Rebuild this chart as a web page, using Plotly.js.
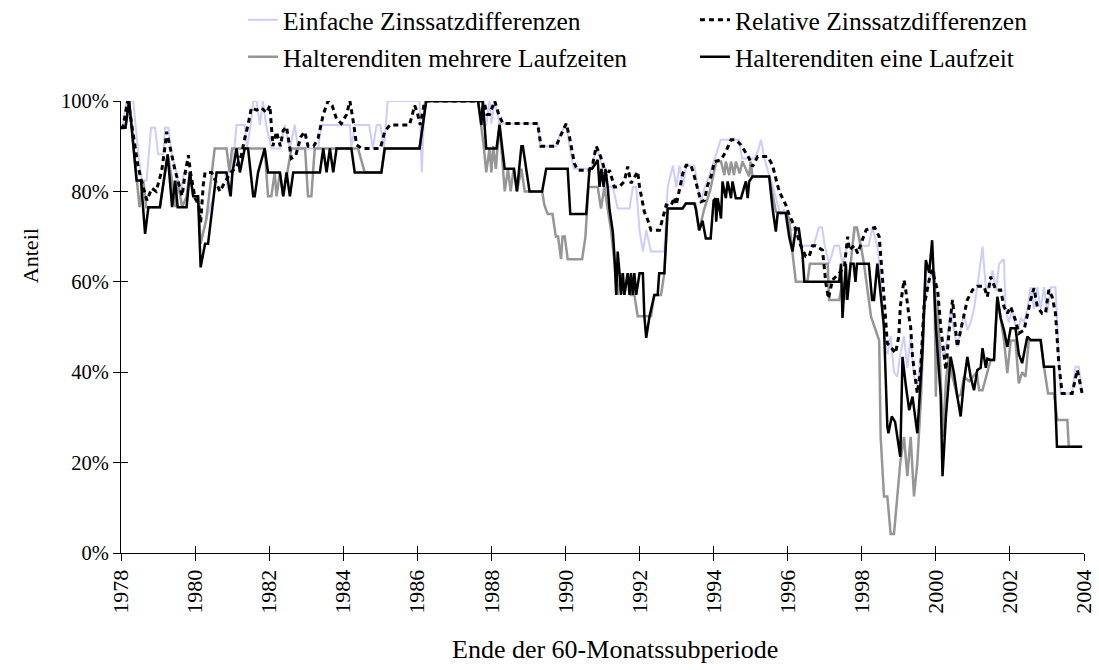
<!DOCTYPE html>
<html><head><meta charset="utf-8">
<script src="https://cdn.plot.ly/plotly-3.0.1.min.js"></script>
<style>html,body{margin:0;padding:0;background:#fff}#chart{width:1099px;height:670px}</style>
</head><body><div id="chart"></div>
<script>
// [year, percent]
const einfache = [
[1978.00,94.1],[1978.04,94.1],[1978.15,100],[1978.33,100],[1978.47,88.2],[1978.56,82.4],[1978.69,82.4],[1978.81,94.1],[1978.92,94.1],[1979.00,88.2],
[1979.14,88.2],[1979.19,94.1],[1979.28,94.1],[1979.37,88.2],[1979.50,84.2],[1979.60,78.9],[1979.70,84.2],[1979.86,84.2],[1979.95,78.9],[1980.08,78.9],
[1980.15,68.4],[1980.30,73.7],[1980.50,78.9],[1980.60,84.2],[1980.80,84.2],[1980.93,78.9],[1981.00,84.2],[1981.12,94.7],[1981.34,94.7],[1981.40,89.5],
[1981.50,94.7],[1981.57,100],[1981.66,100],[1981.75,94.7],[1981.83,100],[1981.92,94.7],[1982.06,89.5],[1982.30,89.5],[1982.42,94.7],[1982.56,89.5],
[1982.69,94.7],[1982.78,89.5],[1983.32,89.5],[1983.41,94.7],[1984.18,94.7],[1984.22,89.5],[1984.31,94.7],[1984.70,94.7],[1984.80,89.5],[1984.90,94.7],
[1985.00,94.7],[1985.10,89.5],[1985.20,100],[1986.06,100],[1986.12,84.2],[1986.20,100],[1987.64,100],[1987.73,94.7],[1987.86,94.7],[1987.95,100],
[1988.00,95],[1988.09,100],[1988.22,95],[1989.25,95],[1989.32,90],[1989.75,90],[1989.85,92.5],[1990.02,95],[1990.11,90],[1990.22,85],
[1990.70,85],[1990.85,90],[1991.00,85],[1991.10,81],[1991.28,81],[1991.41,76.2],[1991.73,76.2],[1991.82,81],[1991.91,81],[1992.00,71.4],
[1992.09,66.7],[1992.18,71.4],[1992.31,66.7],[1992.67,66.7],[1992.76,81],[1992.90,85.7],[1992.99,81],[1993.08,85.7],[1993.17,81],[1993.26,85.7],
[1993.48,85.7],[1993.57,81],[1993.66,77.7],[1993.75,80.7],[1993.84,82.5],[1993.93,85],[1994.02,87],[1994.10,89],[1994.19,91.4],[1994.68,91.4],
[1994.77,87.3],[1995.10,87.3],[1995.20,89],[1995.28,91.4],[1995.37,87.3],[1995.50,83.6],[1995.64,80],[1995.73,77],[1995.82,74.8],[1995.91,76],
[1996.00,71.5],[1996.22,71.5],[1996.35,68],[1996.70,68],[1996.84,72],[1996.93,72],[1997.00,68],[1997.12,64],[1997.26,68],[1997.39,68],
[1997.48,64],[1997.61,68],[1997.75,68],[1997.83,72],[1997.87,72],[1997.95,68],[1998.19,68],[1998.28,72],[1998.42,68],[1998.51,61],
[1998.60,48],[1998.69,44],[1998.78,48],[1998.87,40],[1998.96,39],[1999.04,44],[1999.14,48],[1999.23,41],[1999.32,48],[1999.41,39],
[1999.50,36.8],[1999.64,48],[1999.73,56.7],[1999.82,61],[1999.96,62],[2000.05,53],[2000.14,45],[2000.23,43.4],[2000.32,48],[2000.40,53],
[2000.49,49.3],[2000.58,45.6],[2000.67,49.3],[2000.76,53],[2000.85,49.3],[2000.94,51],[2001.03,54],[2001.08,56.7],[2001.17,62],[2001.26,67.8],
[2001.35,58.6],[2001.44,58.6],[2001.53,62.5],[2001.62,58],[2001.71,64],[2001.80,64.8],[2001.84,64.8],[2001.88,54],[2001.97,51],[2002.06,54],
[2002.11,52],[2002.20,48],[2002.29,52],[2002.38,51],[2002.47,54],[2002.56,58.8],[2002.65,54],[2002.74,58.8],[2002.83,54],[2002.92,58.8],
[2003.01,53],[2003.10,58.8],[2003.23,58.8],[2003.37,35.3],[2003.68,35.3],[2003.77,41.2],[2003.86,41.2],[2003.95,35.3]
];
const relative = [
[1978.00,94.1],[1978.05,94.1],[1978.18,100],[1978.25,97],[1978.45,86],[1978.55,82.4],[1978.70,78],[1978.83,80.7],[1978.95,80],[1979.10,84.6],
[1979.19,90],[1979.23,93.2],[1979.32,90],[1979.46,84.6],[1979.55,82],[1979.65,79],[1979.73,84],[1979.82,88],[1979.88,84],[1980.00,78.5],
[1980.10,77],[1980.15,73],[1980.22,81.4],[1980.27,84.2],[1980.45,84.2],[1980.67,80],[1980.80,82],[1980.95,84],[1981.12,85.5],[1981.25,88],
[1981.34,91.7],[1981.43,94.7],[1981.52,98.5],[1981.66,98],[1981.79,98.5],[1981.93,97.4],[1982.02,99],[1982.06,93.2],[1982.10,90],[1982.20,93.2],
[1982.30,90],[1982.38,93.5],[1982.47,94.3],[1982.60,87.3],[1982.72,88],[1982.85,92],[1982.96,93.2],[1983.05,90],[1983.20,90],[1983.32,91.7],
[1983.46,97],[1983.59,100],[1983.70,99],[1983.82,96],[1983.95,95],[1984.09,97],[1984.18,100],[1984.28,95],[1984.36,90.3],[1984.50,89.5],
[1985.00,89.5],[1985.12,93.2],[1985.26,94.7],[1985.79,94.7],[1985.93,99],[1986.00,97.4],[1986.08,94.7],[1986.20,100],[1987.80,100],[1987.88,97],
[1987.95,97],[1988.09,100],[1988.20,97],[1988.31,95],[1989.25,95],[1989.34,90],[1989.75,90],[1989.85,92],[1990.02,95],[1990.11,92],
[1990.24,86.2],[1990.33,84.7],[1990.65,84.7],[1990.74,86.2],[1990.83,90],[1990.92,88.4],[1991.01,86.2],[1991.10,83.3],[1991.19,84.7],[1991.32,81],
[1991.45,81],[1991.59,82.2],[1991.68,85.5],[1991.77,81.8],[1991.95,84.4],[1992.00,81],[1992.13,75.5],[1992.22,73.7],[1992.31,71.4],[1992.54,71.4],
[1992.72,77],[1992.85,76.8],[1992.94,78.7],[1992.99,77],[1993.08,80.7],[1993.17,84],[1993.26,85.8],[1993.39,85.8],[1993.48,83.3],[1993.57,80.3],
[1993.66,77.7],[1993.75,78],[1993.84,81.4],[1993.93,83.3],[1994.02,86.6],[1994.20,87],[1994.33,88.8],[1994.47,91.4],[1994.60,91.4],[1994.74,90.3],
[1994.87,88.4],[1994.96,87.3],[1995.05,85.5],[1995.19,87.7],[1995.46,87.7],[1995.59,85.8],[1995.68,82.9],[1995.77,80],[1995.86,78.5],[1995.95,77],
[1996.04,74.8],[1996.20,72],[1996.35,68],[1996.49,65.6],[1996.58,65.6],[1996.67,68],[1996.76,68],[1996.94,67],[1996.99,63],[1997.03,59.7],
[1997.10,56.3],[1997.21,60.4],[1997.40,62],[1997.53,63.3],[1997.62,70],[1997.66,67],[1997.80,68],[1997.89,66.3],[1998.03,69.6],[1998.12,71.5],
[1998.35,72],[1998.47,70],[1998.60,56.7],[1998.69,46.4],[1998.78,45.6],[1998.91,44.2],[1999.00,47.9],[1999.04,54.5],[1999.14,60.4],[1999.19,58],
[1999.28,52],[1999.32,50],[1999.37,43.4],[1999.50,35.3],[1999.59,40.5],[1999.68,54.5],[1999.82,60.4],[1999.90,62.6],[2000.05,58],[2000.14,49.3],
[2000.27,40.5],[2000.36,49.3],[2000.45,56],[2000.54,49.3],[2000.58,45.6],[2000.67,49.3],[2000.76,53],[2000.85,56],[2000.99,58.2],[2001.12,59],
[2001.30,59],[2001.39,56.7],[2001.48,61.1],[2001.62,58.2],[2001.75,58.2],[2001.84,54.5],[2001.93,53],[2002.02,54.5],[2002.15,51.5],[2002.24,48.6],
[2002.38,49.3],[2002.47,53],[2002.56,56],[2002.65,58.6],[2002.74,54.5],[2002.87,53],[2002.96,53],[2003.05,58.2],[2003.14,56.7],[2003.23,53],
[2003.32,41.9],[2003.41,35.3],[2003.68,35.3],[2003.82,40.5],[2003.95,35.3]
];
const mehrere = [
[1978.00,94.1],[1978.12,94.1],[1978.22,100],[1978.42,82.4],[1978.50,76.5],[1978.60,82.4],[1978.68,76.5],[1979.05,76.5],[1979.26,88.2],[1979.38,82.4],
[1979.46,76.5],[1979.53,82.4],[1979.65,76.5],[1979.77,78.9],[1979.86,84.2],[1979.95,78.9],[1980.08,78.9],[1980.15,68.4],[1980.30,73.7],[1980.53,89.5],
[1980.85,89.5],[1980.93,84.2],[1981.00,89.5],[1981.88,89.5],[1981.97,78.9],[1982.06,78.9],[1982.15,84.2],[1982.20,78.9],[1982.29,84.2],[1982.38,78.9],
[1982.50,84.2],[1982.60,89.5],[1982.97,89.5],[1983.05,78.9],[1983.14,78.9],[1983.23,89.5],[1984.40,89.5],[1984.58,84.2],[1985.03,84.2],[1985.12,89.5],
[1986.06,89.5],[1986.24,100],[1987.64,100],[1987.73,94.7],[1987.80,89.5],[1987.86,84.2],[1987.95,89.5],[1988.00,84.2],[1988.05,90],[1988.12,85],
[1988.22,95],[1988.36,80],[1988.45,85],[1988.52,80],[1988.60,85],[1988.69,80],[1988.81,85],[1988.90,80],[1989.37,80],[1989.43,77],
[1989.52,75],[1989.65,75],[1989.74,70],[1989.80,70],[1989.88,65],[1989.92,70],[1989.98,70],[1990.06,65],[1990.45,65],[1990.54,70],
[1990.58,76.6],[1990.62,81],[1990.87,81],[1990.96,76.2],[1991.05,81],[1991.14,76.2],[1991.23,71.4],[1991.32,64.5],[1991.41,57.1],[1991.50,61.9],
[1991.59,57.1],[1991.68,61.9],[1991.77,57.1],[1991.86,57.1],[1991.95,52.4],[1992.31,52.4],[1992.40,57.1],[1992.58,57.1],[1992.67,61.9],[1992.76,76.2],
[1993.16,76.2],[1993.25,77.3],[1993.50,77.3],[1993.61,71.4],[1993.75,76.2],[1993.90,80],[1994.00,84],[1994.07,86.6],[1994.20,86.6],[1994.29,83.6],
[1994.33,86.6],[1994.42,83.6],[1994.47,86.6],[1994.55,83.6],[1994.60,86.6],[1994.70,84],[1994.78,86.6],[1994.96,83.3],[1995.00,86.6],[1995.05,83.3],
[1995.50,83.3],[1995.59,79],[1995.68,75.5],[1995.95,75.2],[1996.04,74],[1996.13,66.4],[1996.22,60],[1996.53,60],[1996.60,64],[1997.08,64],
[1997.12,56],[1997.39,56],[1997.48,60],[1997.57,56],[1997.70,64],[1997.80,72],[1997.87,72],[1997.98,67.8],[1998.06,64],[1998.25,52.3],
[1998.42,48],[1998.47,47],[1998.51,25.7],[1998.60,12.5],[1998.69,12.5],[1998.78,4.2],[1998.87,4.2],[1998.96,12.5],[1999.04,20],[1999.14,25.7],
[1999.23,17],[1999.32,25.7],[1999.41,12.5],[1999.50,20],[1999.60,34.6],[1999.68,52],[1999.73,64],[1999.87,62],[1999.96,62],[2000.00,34.6],
[2000.05,56],[2000.19,25.7],[2000.28,39],[2000.36,43.4],[2000.45,39],[2000.58,34.6],[2000.67,35],[2000.76,39],[2000.90,38],[2001.10,40],
[2001.17,36],[2001.26,36],[2001.35,39],[2001.48,42.7],[2001.57,42.7],[2001.66,56.7],[2001.75,52],[2001.84,47],[2001.93,39.8],[2002.02,47],
[2002.15,47],[2002.24,37.5],[2002.33,40],[2002.42,39],[2002.51,47],[2002.83,47],[2002.92,41.2],[2003.03,35.3],[2003.19,35.3],[2003.28,29.4],
[2003.55,29.4],[2003.59,23.5],[2003.95,23.5]
];
const eine = [
[1978.00,94.1],[1978.12,94.1],[1978.22,100],[1978.42,82.4],[1978.54,82.4],[1978.65,70.6],[1978.74,76.5],[1979.05,76.5],[1979.26,88.2],[1979.38,76.5],
[1979.46,82.4],[1979.53,76.5],[1979.77,76.5],[1979.86,84.2],[1979.95,78.9],[1980.08,78.9],[1980.15,63.2],[1980.27,68.4],[1980.35,68.4],[1980.58,84.2],
[1980.85,84.2],[1980.96,78.9],[1981.01,84.2],[1981.12,89.5],[1981.21,84.2],[1981.34,89.5],[1981.43,89.5],[1981.57,78.9],[1981.61,78.9],[1981.70,84.2],
[1981.88,89.5],[1981.97,84.2],[1982.29,84.2],[1982.38,78.9],[1982.47,84.2],[1982.56,78.9],[1982.65,84.2],[1983.37,84.2],[1983.46,89.5],[1983.55,84.2],
[1983.64,89.5],[1983.73,84.2],[1983.82,89.5],[1984.22,89.5],[1984.31,84.2],[1985.03,84.2],[1985.12,89.5],[1986.06,89.5],[1986.24,100],[1987.64,100],
[1987.73,94.7],[1987.77,100],[1987.86,89.5],[1988.14,89.5],[1988.22,94.7],[1988.36,85],[1988.61,85],[1988.69,80],[1988.81,90],[1988.85,90],
[1989.03,80],[1989.37,80],[1989.48,85],[1990.06,85],[1990.13,75],[1990.56,75],[1990.65,85],[1990.72,85],[1990.80,86],[1990.87,87],
[1990.92,81],[1990.97,85],[1991.03,81],[1991.08,85],[1991.14,81],[1991.19,76],[1991.28,71],[1991.32,66],[1991.37,57.1],[1991.41,66.7],
[1991.46,61.9],[1991.50,57.1],[1991.55,61.9],[1991.59,57.1],[1991.68,61.9],[1991.73,57.1],[1991.77,61.9],[1991.82,57.1],[1991.86,61.9],[1991.91,57.1],
[1992.00,61.9],[1992.09,61.9],[1992.13,52.4],[1992.18,47.6],[1992.27,52.4],[1992.40,57.1],[1992.49,57.1],[1992.53,61.9],[1992.67,61.9],[1992.76,76.2],
[1993.16,76.2],[1993.25,77.3],[1993.48,77.3],[1993.52,76.2],[1993.61,71.4],[1993.70,73.5],[1993.79,69.6],[1993.92,69.6],[1994.00,78],[1994.05,78.5],
[1994.07,73.3],[1994.11,78.5],[1994.20,74],[1994.24,82.2],[1994.33,78.5],[1994.38,82.2],[1994.47,78.5],[1994.51,82.2],[1994.60,78.5],[1994.74,78.5],
[1994.87,82.2],[1994.92,78.5],[1994.96,82.2],[1995.05,83.3],[1995.50,83.3],[1995.59,76.3],[1995.68,71.1],[1995.73,75.2],[1995.95,75.2],[1996.04,70],
[1996.13,66.7],[1996.22,71.8],[1996.30,71.8],[1996.40,66],[1996.45,60],[1997.39,60],[1997.44,64],[1997.48,52],[1997.57,64],[1997.61,56],
[1997.70,64],[1997.78,64],[1997.83,60],[1997.87,64],[1998.19,64],[1998.28,56],[1998.33,56],[1998.42,64],[1998.50,58],[1998.60,50],
[1998.69,28],[1998.72,26.5],[1998.81,30.2],[1998.90,29],[1999.04,21.3],[1999.10,43.4],[1999.19,37],[1999.28,31.6],[1999.37,34.6],[1999.50,26.5],
[1999.64,45],[1999.73,64.8],[1999.82,62],[1999.90,69.2],[2000.00,50],[2000.13,35],[2000.18,17],[2000.27,30],[2000.40,43.4],[2000.49,39.8],
[2000.58,34.6],[2000.67,30.2],[2000.76,38],[2000.85,43.4],[2000.94,39],[2001.03,36],[2001.12,40.5],[2001.21,41],[2001.26,45.3],[2001.35,41],
[2001.39,43],[2001.48,42.7],[2001.57,42.7],[2001.66,56.7],[2001.75,52],[2001.84,49.3],[2001.93,45.6],[2002.02,49.7],[2002.15,49.7],[2002.24,44],
[2002.33,42],[2002.47,47.9],[2002.56,47.1],[2002.83,47.1],[2002.92,41.2],[2003.19,41.2],[2003.27,23.5],[2003.95,23.5]
];
const seriesNames = ["Einfache Zinssatzdifferenzen", "Relative Zinssatzdifferenzen", "Halterenditen mehrere Laufzeiten", "Halterenditen eine Laufzeit"];
const yearTicks = [1978,1980,1982,1984,1986,1988,1990,1992,1994,1996,1998,2000,2002,2004];
const yearLabels = yearTicks.map(String);
const pctTicks = [0,20,40,60,80,100];
const pctLabels = ["0%","20%","40%","60%","80%","100%"];

const FONT = "'Liberation Serif', 'Times New Roman', serif";
function tr(data, name, line, legend) {
  return {type:'scatter', mode:'lines', x:data.map(d=>d[0]), y:data.map(d=>d[1]), name:name,
    line:line, legend:legend, hoverinfo:'skip'};
}
const traces = [
  tr(einfache, seriesNames[0], {color:'#ccccff', width:2}, 'legend'),
  tr(mehrere, seriesNames[2], {color:'#969696', width:2.5}, 'legend3'),
  tr(relative, seriesNames[1], {color:'#000000', width:3, dash:'5px,4px'}, 'legend2'),
  tr(eine, seriesNames[3], {color:'#000000', width:2.5}, 'legend4'),
  {type:'scatter', mode:'lines', x:[], y:[], xaxis:'x2', yaxis:'y2', showlegend:false, hoverinfo:'skip'}
];
function leg(x, y) {
  return {orientation:'h', x:x, xanchor:'left', y:y, yanchor:'middle',
    font:{family:FONT, size:25.5, color:'#000'}, bgcolor:'rgba(0,0,0,0)', borderwidth:0};
}
const layout = {
  width:1099, height:670, margin:{l:121, r:15, t:101, b:117, autoexpand:false},
  paper_bgcolor:'#fff', plot_bgcolor:'#fff',
  font:{family:FONT, size:21, color:'#000'},
  showlegend:true,
  legend:leg(0.1267, 1.179),
  legend2:leg(0.596, 1.179),
  legend3:leg(0.1267, 1.097),
  legend4:leg(0.596, 1.097),
  xaxis:{range:[1978,2004], tickmode:'array', tickvals:yearTicks, ticktext:yearLabels, tickangle:-90,
    ticks:'outside', ticklen:7, tickwidth:1, tickcolor:'#000', showline:true, linecolor:'#000', linewidth:1,
    showgrid:false, zeroline:false, tickfont:{family:FONT, size:22}, fixedrange:true},
  yaxis:{range:[0,100], tickmode:'array', tickvals:pctTicks, ticktext:pctLabels,
    ticks:'outside', ticklen:7, tickwidth:1, tickcolor:'#000', showline:true, linecolor:'#000', linewidth:1,
    showgrid:false, zeroline:false, tickfont:{family:FONT, size:20.5}, fixedrange:true},
  xaxis2:{overlaying:'x', range:[1978,2004], tickmode:'array', tickvals:yearTicks, ticks:'inside', ticklen:7,
    tickcolor:'#000', showticklabels:false, showline:false, showgrid:false, zeroline:false},
  yaxis2:{overlaying:'y', range:[0,100], tickmode:'array', tickvals:pctTicks, ticks:'inside', ticklen:7,
    tickcolor:'#000', showticklabels:false, showline:false, showgrid:false, zeroline:false},
  annotations:[
    {text:'Anteil', xref:'paper', yref:'paper', x:-0.0945, y:0.659, textangle:-90, showarrow:false,
      xanchor:'center', yanchor:'middle', font:{family:FONT, size:22}},
    {text:'Ende der 60-Monatssubperiode', xref:'paper', yref:'paper', x:0.513, y:-0.2146, showarrow:false,
      xanchor:'center', yanchor:'middle', font:{family:FONT, size:26}}
  ]
};
Plotly.newPlot('chart', traces, layout, {staticPlot:true, displayModeBar:false});
</script>
</body></html>
